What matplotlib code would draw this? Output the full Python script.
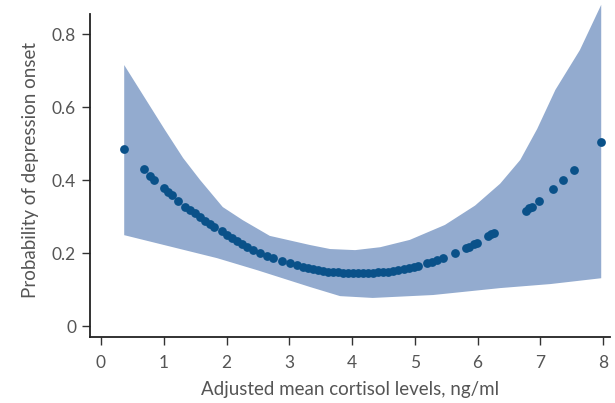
import matplotlib
matplotlib.use("Agg")
import matplotlib.pyplot as plt
import numpy as np

# Point estimates (dots)
cortisol = [0.37, 0.69, 0.78, 0.84, 1.00, 1.07, 1.13, 1.23, 1.34, 1.42, 1.50, 1.58,
            1.66, 1.74, 1.80, 1.93, 2.01, 2.09, 2.17, 2.25, 2.33, 2.42, 2.53, 2.65,
            2.74, 2.89, 3.01, 3.12, 3.22, 3.30, 3.38, 3.46, 3.54, 3.62, 3.70, 3.78,
            3.86, 3.94, 4.02, 4.10, 4.18, 4.26, 4.34, 4.42, 4.50, 4.58, 4.66, 4.74,
            4.82, 4.90, 4.98, 5.05, 5.20, 5.27, 5.35, 5.45, 5.64, 5.82, 5.86, 5.94,
            5.99, 6.17, 6.22, 6.26, 6.77, 6.82, 6.87, 6.98, 7.20, 7.36, 7.54, 7.97]
probability = [0.485, 0.430, 0.411, 0.400, 0.378, 0.367, 0.359, 0.342, 0.326, 0.318,
               0.310, 0.299, 0.288, 0.279, 0.271, 0.260, 0.249, 0.241, 0.232, 0.225,
               0.216, 0.208, 0.200, 0.192, 0.186, 0.178, 0.173, 0.167, 0.162, 0.158,
               0.155, 0.153, 0.151, 0.149, 0.148, 0.147, 0.146, 0.145, 0.145, 0.145,
               0.145, 0.146, 0.146, 0.147, 0.148, 0.149, 0.151, 0.153, 0.155, 0.158,
               0.161, 0.165, 0.173, 0.176, 0.182, 0.187, 0.200, 0.214, 0.217, 0.225,
               0.228, 0.247, 0.252, 0.255, 0.315, 0.323, 0.327, 0.342, 0.375, 0.400,
               0.427, 0.505]

# Confidence band
upper_x = [0.37, 1.02, 1.31, 1.58, 1.94, 2.26, 2.69, 3.33, 3.65, 4.05, 4.45, 4.92,
           5.48, 5.96, 6.36, 6.68, 6.95, 7.24, 7.63, 7.97]
upper_y = [0.715, 0.537, 0.46, 0.40, 0.326, 0.29, 0.247, 0.222, 0.211, 0.208, 0.216,
           0.236, 0.277, 0.33, 0.39, 0.455, 0.54, 0.647, 0.756, 0.88]
lower_x = [0.37, 1.85, 2.49, 3.33, 3.81, 4.33, 5.29, 6.36, 7.16, 7.97]
lower_y = [0.249, 0.186, 0.153, 0.107, 0.082, 0.077, 0.085, 0.104, 0.115, 0.131]

x_ticks = [0, 1, 2, 3, 4, 5, 6, 7, 8]
y_ticks = [0, 0.2, 0.4, 0.6, 0.8]
y_ticklabels = ["0", "0.2", "0.4", "0.6", "0.8"]

plt.rcParams['font.family'] = ['Lato', 'DejaVu Sans']
text_color = "#555555"

fig = plt.figure(figsize=(6.15, 4.03), dpi=100)
ax = fig.add_axes([90/615, 1 - 337/403, 520/615, 334/403])

poly_x = list(upper_x) + list(lower_x[::-1])
poly_y = list(upper_y) + list(lower_y[::-1])
ax.fill(poly_x, poly_y, color="#93abcf", lw=0, zorder=1)
ax.scatter(cortisol, probability, s=40, color="#0a5189", lw=0, zorder=3)

ax.set_xlim(-0.175, 8.11)
ax.set_ylim(-0.03, 0.885)
ax.spines['top'].set_visible(False)
ax.spines['right'].set_visible(False)
ax.spines['left'].set_bounds(-0.03, 0.855)
for s in ['left', 'bottom']:
    ax.spines[s].set_linewidth(1.3)
    ax.spines[s].set_color("#222222")

ax.set_xticks(x_ticks)
ax.set_xticklabels([str(t) for t in x_ticks])
ax.set_yticks(y_ticks)
ax.set_yticklabels(y_ticklabels)
ax.tick_params(axis='both', direction='out', length=6, width=1.0, color="#333333",
               labelsize=12.5, labelcolor=text_color)
ax.tick_params(axis='x', pad=7)
ax.tick_params(axis='y', pad=4)

ax.set_xlabel("Adjusted mean cortisol levels, ng/ml", fontsize=13.5, color=text_color, labelpad=7)
ax.set_ylabel("Probability of depression onset", fontsize=13.5, color=text_color, labelpad=9)

fig.savefig("out.png", dpi=100)
